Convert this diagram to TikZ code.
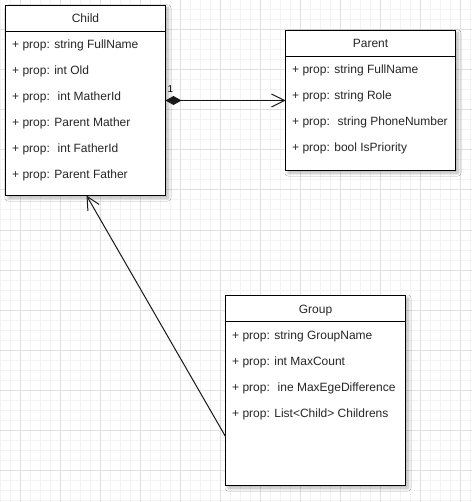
\documentclass[tikz,border=0pt]{standalone}
\usepackage{fontspec}
\setmainfont{Liberation Sans}
\usetikzlibrary{arrows.meta,shadows.blur}
\definecolor{gridminor}{HTML}{F3F3F3}
\definecolor{gridmajor}{HTML}{E0E0E0}
\begin{document}
\begin{tikzpicture}[x=1pt,y=-1pt,
  umlbox/.style={draw=black,line width=1pt,fill=white,rectangle,inner sep=0pt,outer sep=0pt,anchor=north west,
    blur shadow={shadow xshift=2.5pt,shadow yshift=-2.5pt,shadow blur steps=6,shadow blur radius=3pt,shadow opacity=30}},
  hdrline/.style={draw=black,line width=1pt},
  attr/.style={anchor=base west,inner sep=0pt,font=\fontsize{12}{14}\selectfont,text=black!85},
  title/.style={anchor=base,inner sep=0pt,font=\fontsize{12}{14}\selectfont,text=black!85},
  conn/.style={line width=1pt,draw=black!90}]
\useasboundingbox (0,0) rectangle (472,502);
\fill[white] (0,0) rectangle (472,502);
% grid
\foreach \x in {0,10,...,470} \draw[gridminor,line width=1pt] (\x,0) -- (\x,502);
\foreach \y in {0,10,...,500} \draw[gridminor,line width=1pt] (0,\y) -- (472,\y);
\foreach \x in {20,60,...,460} \draw[gridmajor,line width=1pt] (\x,0) -- (\x,502);
\foreach \y in {30,70,...,470} \draw[gridmajor,line width=1pt] (0,\y) -- (472,\y);

% Child
\node[umlbox,minimum width=160pt,minimum height=190pt] (child) at (5.5,5.5) {};
\draw[hdrline] ([yshift=-26pt]child.north west) -- ([yshift=-26pt]child.north east);
\node[title] (childT) at (85.5,22.5) {Child};
\node[attr] (c1) at (12,48.5) {+ prop: string FullName};
\node[attr] (c2) at (12,74.5) {+ prop: int Old};
\node[attr] (c3) at (12,100.5) {+ prop:~ int MatherId};
\node[attr] (c4) at (12,126.5) {+ prop: Parent Mather};
\node[attr] (c5) at (12,152.5) {+ prop:~ int FatherId};
\node[attr] (c6) at (12,178.5) {+ prop: Parent Father};

% Parent
\node[umlbox,minimum width=170pt,minimum height=140pt] (parent) at (285.5,30.5) {};
\draw[hdrline] ([yshift=-26pt]parent.north west) -- ([yshift=-26pt]parent.north east);
\node[title] (parentT) at (370.5,47.5) {Parent};
\node[attr] (p1) at (292,74) {+ prop: string FullName};
\node[attr] (p2) at (292,100) {+ prop: string Role};
\node[attr] (p3) at (292,126) {+ prop:~ string PhoneNumber};
\node[attr] (p4) at (292,152) {+ prop: bool IsPriority};

% Group
\node[umlbox,minimum width=180pt,minimum height=190pt] (group) at (225.5,295.5) {};
\draw[hdrline] ([yshift=-26pt]group.north west) -- ([yshift=-26pt]group.north east);
\node[title] (groupT) at (315.5,313.5) {Group};
\node[attr] (g1) at (232,339) {+ prop: string GroupName};
\node[attr] (g2) at (232,365) {+ prop: int MaxCount};
\node[attr] (g3) at (232,391) {+ prop:~ ine MaxEgeDifference};
\node[attr] (g4) at (232,417) {+ prop: List<Child> Childrens};

% connectors
\draw[conn,{Diamond[length=16pt,width=9pt]}-{Straight Barb[length=13pt,width=13pt]}]
  ([yshift=-95pt]child.north east) -- ([yshift=-70pt]parent.north west);
\node[anchor=base west,inner sep=0pt,font=\fontsize{10}{12}\selectfont] (one) at (167.5,92.5) {1};
\draw[conn,-{Straight Barb[length=13pt,width=13pt]}]
  ([yshift=-141pt]group.north west) -- ([xshift=81pt]child.south west);
\end{tikzpicture}
\end{document}
